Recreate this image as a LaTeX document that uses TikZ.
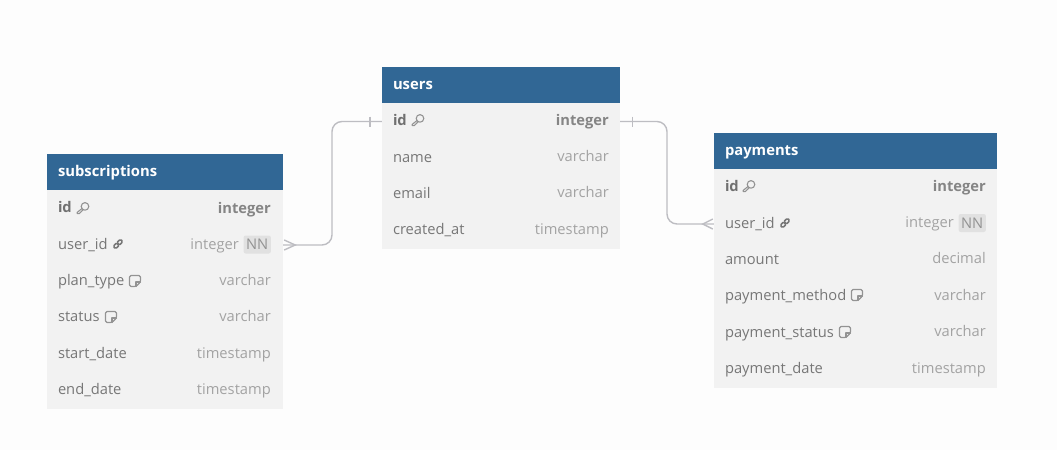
\documentclass[tikz,border=0pt]{standalone}
\usepackage{fontspec}
\setmainfont{Open Sans}
\usepackage{xcolor}
\usetikzlibrary{arrows.meta,positioning}
\definecolor{softback}{HTML}{FDFDFD}
\definecolor{softrow}{HTML}{F2F2F2}
\definecolor{headblue}{HTML}{316795}
\definecolor{textgray}{HTML}{777777}
\definecolor{typegray}{HTML}{A3A3A3}
\definecolor{idgray}{HTML}{707070}
\definecolor{tagfill}{HTML}{E1E1E1}
\definecolor{linegray}{HTML}{BDBDC2}

\begin{document}
\begin{tikzpicture}[
  x=1pt, y=-1pt,
  tablehead/.style={
    rectangle, fill=headblue, text=white, font=\fontsize{14.8}{16}\selectfont\bfseries,
    align=left, minimum height=36.4pt, inner ysep=0pt, inner xsep=11pt,
    text width=#1, text height=11pt, text depth=2pt
  },
  fieldrow/.style={
    rectangle, fill=softrow, text=textgray, font=\fontsize{14.7}{16}\selectfont,
    align=left, minimum height=36.6pt, inner ysep=0pt, inner xsep=11pt,
    text width=#1, text height=10.5pt, text depth=2.5pt
  },
  idrow/.style={
    fieldrow=#1, text=idgray, font=\fontsize{14.7}{16}\selectfont\bfseries
  },
  typename/.style={
    text=typegray, font=\fontsize{14.7}{16}\selectfont, inner sep=0pt,
    anchor=east, text height=10pt, text depth=3pt, yshift=-1.2pt
  },
  idtype/.style={
    typename, text=idgray!85, font=\fontsize{14.7}{16}\selectfont\bfseries, yshift=-0.8pt
  },
  nntag/.style={
    rectangle, rounded corners=2pt, fill=tagfill, text=typegray!90!black,
    font=\fontsize{14.7}{16}\selectfont, inner xsep=2.5pt, inner ysep=0pt,
    minimum height=18pt, anchor=east
  },
  relline/.style={draw=linegray, line width=1.4pt},
  iconline/.style={draw=typegray!90!black, line width=1.1pt, line cap=round, line join=round},
  keyicon/.pic={
    \draw[iconline] (2,-1.6) circle (3.8);
    \draw[iconline] (-1.1,0.6) -- (-5.8,4.4) -- (-5.8,5.6) -- (-3.8,5.6) -- (0,2);
  },
  linkicon/.pic={
    \draw[iconline, draw=textgray, line width=1.5pt, rounded corners=1.8pt, rotate=45] (-5.4,-1.8) rectangle (0.6,1.8);
    \draw[iconline, draw=textgray, line width=1.5pt, rounded corners=1.8pt, rotate=45] (-0.6,-1.8) rectangle (5.4,1.8);
  },
  noteicon/.pic={
    \draw[iconline, rounded corners=1.5pt] (1,5.5) -- (-5.5,5.5) -- (-5.5,-5.5) -- (5.5,-5.5) -- (5.5,1) -- cycle;
    \draw[iconline] (1,5.5) -- (1,1) -- (5.5,1);
  }
]
\fill[softback] (0,0) rectangle (1057,450);
\useasboundingbox (0,0) rectangle (1057,450);

% users
\node[tablehead=216pt] (users) at (501,85.2) {users};
\node[idrow=216pt] (usersid) at (501,121.5) {id};
\node[fieldrow=216pt] (usersname) at (501,158) {name};
\node[fieldrow=216pt] (usersemail) at (501,194.4) {email};
\node[fieldrow=216pt] (userscreated) at (501,230.8) {created\_at};
\node[idtype] at (609,120) {integer};
\node[typename] at (609,157) {varchar};
\node[typename] at (609,193) {varchar};
\node[typename] at (609,230) {timestamp};
\pic at (418,120) {keyicon};

% subscriptions
\node[tablehead=214pt] (subs) at (165,172.2) {subscriptions};
\node[idrow=214pt] (subsid) at (165,208.5) {id};
\node[fieldrow=214pt] (subsuser) at (165,245) {user\_id};
\node[fieldrow=214pt] (subsplan) at (165,281.4) {plan\_type};
\node[fieldrow=214pt] (subsstatus) at (165,317.8) {status};
\node[fieldrow=214pt] (subsstart) at (165,354.2) {start\_date};
\node[fieldrow=214pt] (subsend) at (165,390.6) {end\_date};
\node[idtype] at (271,208) {integer};
\node[nntag] (subsnn) at (271,244.5) {NN};
\node[typename] at (239,244.5) {integer};
\node[typename] at (271,281) {varchar};
\node[typename] at (271,317) {varchar};
\node[typename] at (271,354) {timestamp};
\node[typename] at (271,390) {timestamp};
\pic at (83,208) {keyicon};
\pic at (118,244) {linkicon};
\pic at (135,281) {noteicon};
\pic at (111,317) {noteicon};

% payments
\node[tablehead=261pt] (pays) at (855.5,151.2) {payments};
\node[idrow=261pt] (paysid) at (855.5,187.5) {id};
\node[fieldrow=261pt] (paysuser) at (855.5,224) {user\_id};
\node[fieldrow=261pt] (paysamount) at (855.5,260.4) {amount};
\node[fieldrow=261pt] (paysmethod) at (855.5,296.8) {payment\_method};
\node[fieldrow=261pt] (paysstatus) at (855.5,333.2) {payment\_status};
\node[fieldrow=261pt] (paysdate) at (855.5,369.6) {payment\_date};
\node[idtype] at (986,186) {integer};
\node[nntag] (paysnn) at (986,223) {NN};
\node[typename] at (954,223) {integer};
\node[typename] at (986,259) {decimal};
\node[typename] at (986,295.5) {varchar};
\node[typename] at (986,332) {varchar};
\node[typename] at (986,368.5) {timestamp};
\pic at (749,186) {keyicon};
\pic at (785,223) {linkicon};
\pic at (857,295) {noteicon};
\pic at (845,332) {noteicon};

% relations
\coordinate (leftbus) at (332,0);
\coordinate (rightbus) at (667,0);
\draw[relline, rounded corners=10pt] (usersid.west) -- (usersid.west -| leftbus) -- (subsuser.east -| leftbus) -- (subsuser.east);
\draw[relline, rounded corners=10pt] (usersid.east) -- (usersid.east -| rightbus) -- (paysuser.west -| rightbus) -- (paysuser.west);
\draw[relline] ([shift={(-12,-5)}]usersid.west) -- ++(0,10);
\draw[relline] ([shift={(12,-5)}]usersid.east) -- ++(0,10);
\draw[relline] ([shift={(1,-5)}]subsuser.east) -- ++(11,5) -- ++(-11,5);
\draw[relline] ([shift={(-1,-5)}]paysuser.west) -- ++(-10,5) -- ++(10,5);
\end{tikzpicture}
\end{document}
